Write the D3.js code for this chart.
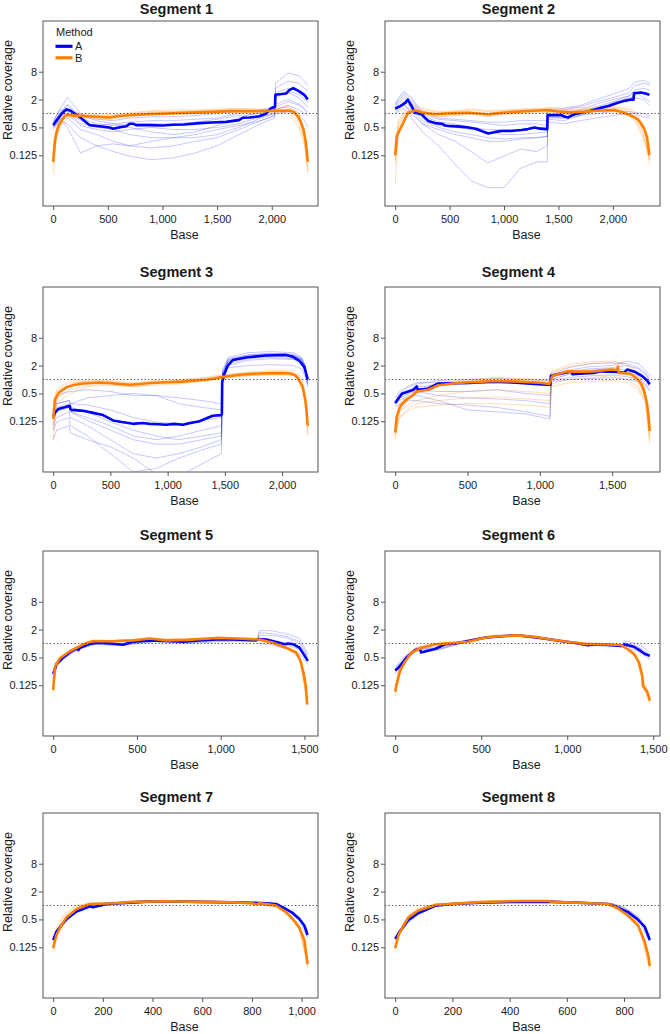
<!DOCTYPE html>
<html><head><meta charset="utf-8">
<script src="https://cdn.jsdelivr.net/npm/d3@7"></script>
<style>
body{margin:0;background:#fff}
svg{display:block}
text{font-family:"Liberation Sans",Arial,Helvetica,sans-serif;fill:#1a1a1a}
</style>
</head><body>
<svg id="chart" width="670" height="1034"></svg>
<script>
// ---------------- DATA ----------------
const segments = ["Segment 1","Segment 2","Segment 3","Segment 4","Segment 5","Segment 6","Segment 7","Segment 8"];
const segLength = [2330, 2340, 2225, 1760, 1520, 1480, 1025, 890];
const tickStep = [500, 500, 500, 500, 500, 500, 200, 200];
const yTicks = [0.125, 0.5, 2, 8];
const methods = ["A", "B"];

// bold (summary) lines: [base, relative coverage]
const meanA1 = [[0,0.56],[40,0.75],[80,1.0],[120,1.23],[160,1.15],[213,0.94],[260,0.78],[304,0.64],[335,0.56],[420,0.53],[517,0.5],[550,0.47],[600,0.5],[670,0.53],[700,0.6],[730,0.6],[760,0.56],[883,0.56],[1000,0.55],[1096,0.57],[1200,0.58],[1340,0.62],[1450,0.64],[1583,0.66],[1700,0.72],[1735,0.81],[1800,0.82],[1887,0.87],[1950,1.0],[1994,1.3],[2030,1.4],[2033,2.55],[2131,2.7],[2160,3.2],[2197,3.54],[2252,3.0],[2300,2.5],[2329,2.0]];
const meanB1 = [[0,0.09],[15,0.25],[30,0.39],[50,0.55],[76,0.69],[100,0.85],[122,0.93],[200,0.9],[274,0.88],[400,0.85],[517,0.82],[600,0.88],[730,0.93],[880,0.97],[1035,1.0],[1200,1.03],[1340,1.06],[1500,1.1],[1644,1.13],[1800,1.12],[1948,1.13],[2100,1.15],[2161,1.16],[2207,1.06],[2240,0.85],[2268,0.64],[2290,0.45],[2307,0.28],[2320,0.16],[2329,0.09]];
const meanA2 = [[0,1.27],[46,1.44],[92,1.7],[116,2.0],[147,1.49],[183,1.04],[244,0.96],[275,0.8],[305,0.69],[366,0.62],[430,0.6],[460,0.55],[488,0.54],[600,0.52],[672,0.5],[740,0.47],[794,0.42],[855,0.37],[920,0.4],[977,0.42],[1060,0.42],[1160,0.44],[1220,0.46],[1282,0.5],[1330,0.47],[1389,0.46],[1398,0.46],[1400,0.92],[1527,0.92],[1560,0.85],[1588,0.82],[1620,0.9],[1649,0.96],[1771,1.1],[1893,1.33],[1960,1.45],[2045,1.7],[2120,1.9],[2168,2.0],[2190,2.0],[2195,2.75],[2259,2.85],[2300,2.7],[2336,2.55]];
const meanB2 = [[0,0.125],[15,0.33],[46,0.46],[76,0.64],[100,0.85],[122,1.04],[183,1.17],[250,1.05],[366,0.96],[470,1.0],[550,1.02],[672,1.04],[760,1.0],[855,0.96],[950,1.02],[1130,1.1],[1280,1.15],[1404,1.19],[1500,1.1],[1600,1.06],[1750,1.1],[1893,1.16],[2015,1.19],[2080,1.08],[2137,0.96],[2190,0.85],[2229,0.75],[2260,0.6],[2290,0.46],[2315,0.3],[2336,0.125]];
const meanA3 = [[0,0.16],[15,0.19],[44,0.23],[100,0.25],[145,0.27],[150,0.23],[160,0.22],[262,0.21],[349,0.19],[436,0.17],[523,0.13],[600,0.12],[698,0.11],[780,0.115],[843,0.11],[920,0.108],[988,0.105],[1060,0.11],[1134,0.105],[1200,0.115],[1279,0.125],[1340,0.145],[1395,0.165],[1468,0.17],[1474,0.18],[1477,0.88],[1497,1.33],[1526,2.0],[1570,2.64],[1686,3.0],[1860,3.3],[2035,3.4],[2093,3.1],[2151,2.55],[2195,1.85],[2224,0.99]];
const meanB3 = [[0,0.14],[15,0.36],[40,0.48],[58,0.54],[116,0.68],[180,0.76],[262,0.82],[400,0.86],[494,0.84],[580,0.8],[669,0.77],[760,0.8],[843,0.84],[1000,0.87],[1134,0.9],[1250,0.95],[1337,0.99],[1420,1.06],[1483,1.14],[1628,1.27],[1750,1.33],[1860,1.37],[2000,1.38],[2064,1.37],[2110,1.25],[2137,1.1],[2160,0.85],[2180,0.69],[2203,0.36],[2215,0.2],[2224,0.1]];
const meanA4 = [[0,0.31],[23,0.39],[46,0.49],[92,0.55],[126,0.6],[149,0.71],[155,0.6],[200,0.62],[229,0.64],[260,0.72],[298,0.82],[400,0.83],[504,0.84],[600,0.87],[687,0.9],[780,0.87],[870,0.84],[960,0.8],[1053,0.77],[1072,0.77],[1076,1.2],[1120,1.3],[1168,1.39],[1218,1.5],[1225,1.3],[1300,1.35],[1374,1.39],[1420,1.5],[1534,1.45],[1580,1.39],[1603,1.64],[1660,1.45],[1706,1.2],[1740,0.96],[1759,0.79]];
const meanB4 = [[0,0.071],[11,0.16],[34,0.26],[69,0.35],[115,0.44],[149,0.55],[229,0.6],[298,0.75],[400,0.82],[504,0.87],[600,0.9],[687,0.93],[870,0.9],[1000,0.85],[1065,0.8],[1088,1.2],[1191,1.5],[1300,1.48],[1374,1.5],[1489,1.64],[1535,1.6],[1539,1.9],[1545,1.39],[1626,1.33],[1672,1.05],[1700,0.8],[1718,0.59],[1740,0.31],[1752,0.15],[1759,0.077]];
const meanA5 = [[0,0.22],[20,0.36],[60,0.5],[100,0.65],[139,0.78],[150,0.72],[159,0.81],[219,0.99],[278,1.04],[358,0.99],[417,0.94],[477,1.09],[576,1.17],[676,1.13],[775,1.09],[874,1.17],[974,1.22],[1073,1.22],[1212,1.17],[1222,1.25],[1272,1.22],[1351,1.04],[1381,0.96],[1400,1.0],[1431,0.97],[1470,0.81],[1495,0.59],[1520,0.42]];
const meanB5 = [[0,0.098],[10,0.31],[40,0.48],[99,0.68],[179,0.96],[238,1.13],[350,1.12],[477,1.17],[576,1.28],[676,1.17],[800,1.2],[974,1.32],[1100,1.28],[1232,1.22],[1311,1.04],[1391,0.81],[1451,0.64],[1476,0.42],[1496,0.22],[1508,0.12],[1516,0.048]];
const meanA6 = [[0,0.26],[19,0.3],[39,0.37],[67,0.5],[116,0.72],[145,0.76],[150,0.64],[231,0.76],[289,0.96],[350,1.0],[424,1.13],[521,1.33],[617,1.44],[713,1.5],[810,1.37],[906,1.22],[964,1.13],[1041,1.04],[1118,0.92],[1195,0.96],[1311,0.88],[1325,0.88],[1330,0.96],[1388,0.85],[1427,0.69],[1450,0.6],[1480,0.54]];
const meanB6 = [[0,0.09],[10,0.14],[29,0.26],[58,0.41],[96,0.64],[154,0.81],[231,0.96],[330,1.02],[424,1.09],[521,1.33],[617,1.45],[713,1.5],[810,1.4],[906,1.22],[1003,1.09],[1100,0.98],[1200,0.96],[1311,0.93],[1350,0.76],[1388,0.59],[1417,0.39],[1430,0.25],[1436,0.2],[1440,0.12],[1465,0.09],[1480,0.058]];
const meanA7 = [[0,0.18],[13,0.27],[33,0.37],[54,0.51],[94,0.74],[147,0.96],[160,0.92],[214,1.08],[321,1.17],[388,1.23],[455,1.23],[589,1.2],[723,1.17],[800,1.15],[857,1.11],[897,1.08],[937,0.84],[964,0.69],[991,0.51],[1011,0.37],[1024,0.23]];
const meanB7 = [[0,0.12],[13,0.23],[33,0.37],[54,0.56],[94,0.84],[147,1.08],[250,1.12],[321,1.2],[455,1.24],[589,1.2],[723,1.17],[800,1.12],[820,1.05],[830,1.12],[857,1.08],[897,1.0],[937,0.72],[964,0.51],[991,0.33],[1011,0.18],[1024,0.054]];
const meanA8 = [[0,0.19],[12,0.25],[29,0.35],[47,0.49],[81,0.69],[140,0.99],[198,1.08],[314,1.17],[430,1.2],[547,1.2],[663,1.13],[744,1.08],[779,0.9],[814,0.72],[849,0.49],[872,0.35],[890,0.18]];
const meanB8 = [[0,0.12],[12,0.23],[29,0.37],[47,0.56],[81,0.78],[140,1.03],[314,1.2],[430,1.25],[535,1.25],[547,1.2],[663,1.13],[744,1.08],[779,0.86],[814,0.6],[849,0.37],[872,0.165],[885,0.08],[890,0.049]];

// thin (individual sample) lines: shared base grid per segment, values per line
const grid1 = [0,30,60,130,250,400,550,700,900,1100,1300,1500,1700,1900,2025,2035,2150,2250,2300,2330];
const thinA1 = [
 [0.7,0.9,1.2,2.2,1.0,0.75,0.7,0.8,0.85,0.85,0.9,1.0,1.1,1.2,1.4,4.5,7.5,6.5,5.0,4.0],
 [0.6,0.8,1.0,1.5,0.8,0.6,0.55,0.6,0.6,0.6,0.65,0.75,0.9,1.0,1.2,3.5,5.0,4.5,3.5,3.0],
 [0.5,0.6,0.8,0.5,0.14,0.2,0.22,0.2,0.25,0.3,0.35,0.45,0.55,0.7,0.9,2.2,3.0,2.6,2.0,1.8],
 [0.45,0.55,0.7,0.6,0.3,0.2,0.15,0.12,0.1,0.11,0.14,0.2,0.35,0.6,0.8,1.2,1.5,1.2,1.0,0.9],
 [0.5,0.6,0.75,0.8,0.45,0.35,0.25,0.2,0.18,0.2,0.25,0.3,0.45,0.7,0.9,1.6,2.0,1.6,1.3,1.1],
 [0.55,0.7,0.9,1.0,0.55,0.45,0.4,0.45,0.5,0.45,0.45,0.5,0.6,0.85,1.0,1.4,1.8,1.5,1.2,1.0],
 [0.6,0.8,1.0,1.2,0.7,0.5,0.45,0.35,0.3,0.3,0.3,0.35,0.5,0.8,1.0,1.0,1.1,0.9,0.7,0.5],
 [0.65,0.9,1.2,1.1,0.6,0.55,0.6,0.5,0.4,0.35,0.4,0.55,0.8,1.1,1.3,2.8,3.5,3.0,2.4,2.0],
 [0.5,0.7,1.0,1.6,0.9,0.7,0.6,0.65,0.7,0.7,0.75,0.8,1.0,1.15,1.3,2.5,2.8,2.2,1.6,1.4]];
const thinB1 = [
 [0.05,0.3,0.55,1.1,0.95,0.9,0.85,0.95,1.05,1.1,1.15,1.2,1.25,1.2,1.25,1.3,1.35,1.0,0.35,0.06],
 [0.12,0.4,0.6,0.95,0.85,0.8,0.8,0.9,1.0,1.0,1.05,1.1,1.1,1.1,1.15,1.2,1.2,0.6,0.25,0.05],
 [0.08,0.3,0.5,0.8,0.8,0.75,0.75,0.85,0.95,0.95,1.0,1.05,1.05,1.05,1.05,1.05,1.05,0.5,0.2,0.07],
 [0.1,0.35,0.65,1.0,0.9,0.85,0.9,1.0,1.1,1.1,1.1,1.15,1.2,1.15,1.2,1.2,1.5,1.0,0.4,0.1],
 [0.15,0.45,0.7,1.2,1.0,0.95,0.95,1.05,1.15,1.2,1.2,1.25,1.3,1.25,1.2,1.25,1.4,0.8,0.3,0.12]];

const grid2 = [0,30,80,150,250,400,550,700,850,1000,1150,1300,1398,1402,1550,1700,1850,2000,2150,2200,2280,2340];
const thinA2 = [
 [1.0,1.1,1.3,0.8,0.4,0.2,0.08,0.035,0.025,0.025,0.065,0.09,0.09,0.85,0.8,0.9,1.0,1.1,1.1,1.05,1.0,0.9],
 [1.2,1.4,1.6,1.0,0.6,0.35,0.25,0.15,0.085,0.12,0.17,0.15,0.2,0.65,0.6,0.7,0.8,0.9,1.0,1.0,0.85,0.8],
 [1.5,2.0,2.8,2.0,1.0,0.75,0.7,0.65,0.6,0.55,0.6,0.6,0.55,1.1,1.2,1.4,1.8,2.2,2.8,4.0,4.5,4.2],
 [1.3,1.6,2.2,1.6,0.8,0.55,0.5,0.45,0.4,0.35,0.35,0.38,0.4,0.9,0.9,1.1,1.4,1.8,2.4,3.2,3.5,3.2],
 [1.1,1.3,1.8,1.4,0.7,0.5,0.4,0.35,0.3,0.28,0.3,0.3,0.32,0.75,0.7,0.9,1.2,1.5,2.0,2.6,2.8,2.5],
 [1.4,1.8,2.5,1.8,0.9,0.65,0.6,0.5,0.45,0.45,0.45,0.5,0.5,1.0,1.0,1.2,1.6,2.0,2.4,3.0,2.2,1.8],
 [1.0,1.2,1.5,1.2,0.6,0.45,0.35,0.3,0.25,0.25,0.28,0.3,0.32,0.8,0.8,1.0,1.3,1.7,2.2,2.2,2.0,1.5],
 [1.6,2.2,3.0,2.2,1.1,0.8,0.75,0.7,0.65,0.65,0.7,0.7,0.7,1.2,1.3,1.5,2.0,2.6,3.5,4.8,5.2,4.6]];
const thinB2 = [
 [0.03,0.35,0.7,1.2,1.1,1.0,1.05,1.1,1.0,1.1,1.15,1.2,1.2,1.2,1.15,1.2,1.25,1.3,1.1,0.9,0.4,0.1],
 [0.1,0.5,0.9,1.4,1.2,1.05,1.1,1.2,1.1,1.15,1.2,1.25,1.3,1.3,1.2,1.25,1.3,1.35,1.2,1.0,0.55,0.15],
 [0.15,0.6,1.0,1.25,1.0,0.9,0.95,1.0,0.9,1.0,1.05,1.1,1.1,1.1,1.0,1.1,1.15,1.15,1.0,0.8,0.35,0.08],
 [0.08,0.4,0.8,1.1,0.95,0.85,0.9,0.95,0.85,0.95,1.0,1.05,1.05,1.05,0.95,1.05,1.1,1.1,0.9,0.7,0.3,0.1],
 [0.2,0.7,1.1,1.6,1.3,1.1,1.15,1.25,1.15,1.2,1.25,1.3,1.3,1.35,1.3,1.35,1.4,1.4,1.3,1.1,0.6,0.2]];

const grid3 = [0,30,140,150,300,500,700,900,1100,1300,1470,1480,1530,1700,1900,2100,2170,2200,2225];
const thinA3 = [
 [0.35,0.45,0.55,0.55,0.6,0.55,0.45,0.45,0.4,0.35,0.3,1.3,1.8,2.0,2.1,2.0,1.7,1.2,0.7],
 [0.2,0.3,0.35,0.3,0.4,0.45,0.5,0.45,0.3,0.25,0.22,1.5,2.8,3.4,3.6,3.4,2.8,2.0,1.0],
 [0.12,0.2,0.25,0.2,0.15,0.1,0.06,0.05,0.06,0.08,0.1,1.4,2.6,3.2,3.4,3.3,2.7,1.8,0.9],
 [0.1,0.15,0.2,0.15,0.1,0.05,0.025,0.02,0.025,0.035,0.05,1.2,2.4,3.0,3.2,3.0,2.5,1.7,0.85],
 [0.08,0.12,0.15,0.1,0.06,0.025,0.01,0.012,0.02,0.03,0.04,1.1,2.2,2.8,3.0,2.8,2.4,1.6,0.8],
 [0.15,0.22,0.28,0.25,0.2,0.12,0.08,0.06,0.05,0.06,0.07,1.6,3.0,3.8,4.0,3.8,3.0,2.1,1.1],
 [0.05,0.08,0.1,0.07,0.05,0.035,0.02,0.009,0.008,0.015,0.025,1.0,2.0,2.6,2.8,2.7,2.2,1.5,0.75],
 [0.25,0.3,0.35,0.3,0.28,0.22,0.15,0.12,0.11,0.13,0.15,1.3,2.5,3.2,3.5,3.3,2.7,1.9,0.95],
 [0.18,0.25,0.3,0.2,0.13,0.08,0.05,0.04,0.04,0.05,0.06,1.3,2.7,3.4,3.7,3.5,2.9,2.0,1.0]];
const thinB3 = [
 [0.05,0.35,0.75,0.8,0.95,0.95,0.85,0.95,1.0,1.1,1.25,1.25,1.3,1.45,1.55,1.55,1.1,0.55,0.07],
 [0.2,0.55,0.85,0.9,0.85,0.8,0.7,0.8,0.85,0.95,1.05,1.05,1.1,1.2,1.25,1.25,0.8,0.4,0.12],
 [0.1,0.4,0.6,0.6,0.75,0.8,0.75,0.85,0.95,1.05,1.2,1.2,1.25,1.4,1.45,1.4,0.95,0.5,0.15],
 [0.3,0.6,0.95,1.0,0.9,0.9,0.8,0.9,0.95,1.0,1.1,1.1,1.15,1.25,1.3,1.3,0.85,0.42,0.09],
 [0.08,0.3,0.5,0.5,0.7,0.75,0.7,0.75,0.8,0.9,1.05,1.1,1.15,1.2,1.3,1.25,0.75,0.35,0.06]];

const grid4 = [0,30,100,150,300,500,700,900,1070,1080,1200,1350,1500,1600,1680,1730,1760];
const thinA4 = [
 [0.35,0.5,0.7,0.8,0.95,1.0,1.05,1.0,0.95,1.3,1.8,2.2,2.3,2.2,1.8,1.4,1.0],
 [0.3,0.4,0.5,0.55,0.45,0.4,0.38,0.35,0.3,1.1,1.4,1.6,1.7,1.6,1.3,1.0,0.75],
 [0.25,0.3,0.35,0.35,0.3,0.28,0.25,0.2,0.16,0.95,1.1,1.2,1.25,1.15,1.0,0.8,0.6],
 [0.28,0.35,0.45,0.45,0.35,0.22,0.2,0.18,0.14,0.9,1.0,1.05,1.1,1.0,0.9,0.75,0.55],
 [0.4,0.55,0.75,0.85,0.85,0.9,0.95,0.9,0.85,1.2,1.6,1.9,2.0,2.5,2.2,1.6,1.2],
 [0.3,0.45,0.6,0.7,0.75,0.8,0.85,0.8,0.75,1.2,1.5,1.7,1.8,2.0,1.7,1.3,0.9],
 [0.33,0.45,0.55,0.6,0.55,0.55,0.6,0.5,0.45,1.0,1.3,1.4,1.5,1.4,1.2,0.9,0.7]];
const thinB4 = [
 [0.05,0.2,0.4,0.5,0.8,0.95,1.05,1.0,0.9,1.4,1.9,2.2,2.3,2.0,1.2,0.5,0.06],
 [0.08,0.15,0.25,0.3,0.35,0.4,0.42,0.38,0.35,0.8,1.0,1.1,1.2,1.0,0.7,0.35,0.05],
 [0.1,0.2,0.3,0.35,0.45,0.55,0.6,0.55,0.5,1.0,1.3,1.45,1.5,1.3,0.9,0.4,0.08],
 [0.06,0.15,0.22,0.25,0.28,0.3,0.3,0.28,0.25,0.7,0.85,0.9,0.95,0.85,0.6,0.3,0.04],
 [0.12,0.3,0.5,0.6,0.85,1.0,1.1,1.05,0.95,1.5,2.1,2.4,2.5,2.2,1.4,0.6,0.1]];

const grid5 = [0,20,60,140,250,400,600,800,1000,1220,1230,1300,1400,1470,1520];
const thinA5 = [
 [0.25,0.4,0.55,0.85,1.05,1.0,1.2,1.2,1.3,1.25,1.9,1.9,1.6,1.3,0.6],
 [0.2,0.33,0.45,0.72,0.95,0.9,1.1,1.05,1.15,1.15,1.5,1.5,1.3,1.0,0.5],
 [0.23,0.38,0.5,0.8,1.0,0.98,1.15,1.1,1.2,1.2,1.2,1.15,0.9,0.75,0.4],
 [0.21,0.35,0.48,0.75,0.98,0.92,1.1,1.0,1.1,1.15,1.0,0.95,0.75,0.6,0.35],
 [0.24,0.37,0.52,0.8,1.02,0.96,1.18,1.15,1.25,1.22,1.7,1.65,1.4,1.1,0.55]];
const thinB5 = [
 [0.09,0.33,0.5,0.75,1.05,1.2,1.2,1.25,1.3,1.25,1.2,1.1,0.82,0.55,0.05],
 [0.11,0.3,0.46,0.7,1.0,1.12,1.15,1.2,1.25,1.2,1.15,1.0,0.75,0.48,0.045],
 [0.1,0.34,0.52,0.8,1.08,1.18,1.22,1.28,1.32,1.28,1.22,1.08,0.8,0.52,0.05]];

const grid6 = [0,20,60,120,150,250,400,550,700,850,1000,1150,1320,1330,1400,1450,1480];
const thinA6 = [
 [0.3,0.38,0.55,0.8,0.85,0.8,1.15,1.45,1.5,1.35,1.1,0.95,0.9,1.15,1.0,0.8,0.6],
 [0.22,0.3,0.45,0.7,0.75,0.72,1.05,1.35,1.45,1.3,1.05,0.9,0.85,0.9,0.75,0.55,0.45],
 [0.28,0.35,0.5,0.75,0.8,0.76,1.1,1.4,1.5,1.35,1.08,0.92,0.88,1.05,0.9,0.7,0.55],
 [0.25,0.32,0.48,0.72,0.78,0.74,1.08,1.38,1.48,1.32,1.06,0.91,0.86,0.8,0.7,0.6,0.5]];
const thinB6 = [
 [0.07,0.22,0.5,0.75,0.85,0.95,1.1,1.45,1.5,1.3,1.05,0.95,0.9,0.85,0.55,0.1,0.05],
 [0.1,0.28,0.45,0.72,0.8,0.9,1.05,1.4,1.45,1.25,1.0,0.92,0.88,0.82,0.5,0.12,0.065],
 [0.09,0.25,0.55,0.8,0.88,1.0,1.15,1.5,1.55,1.35,1.1,0.98,0.92,0.88,0.6,0.14,0.07]];

const grid7 = [0,15,40,90,150,250,400,600,800,900,950,990,1025];
const thinA7 = [
 [0.2,0.3,0.45,0.8,1.0,1.1,1.2,1.22,1.12,1.0,0.8,0.55,0.28],
 [0.16,0.25,0.38,0.7,0.9,1.05,1.15,1.18,1.08,0.95,0.72,0.48,0.2],
 [0.18,0.28,0.42,0.75,0.95,1.08,1.18,1.2,1.1,1.02,0.78,0.52,0.25]];
const thinB7 = [
 [0.12,0.3,0.55,0.95,1.1,1.15,1.25,1.25,1.12,0.95,0.65,0.35,0.045],
 [0.1,0.25,0.45,0.85,1.05,1.12,1.2,1.2,1.08,0.9,0.6,0.3,0.06],
 [0.14,0.35,0.6,1.0,1.12,1.18,1.28,1.3,1.14,0.98,0.68,0.38,0.05]];

const grid8 = [0,12,30,50,80,140,250,400,550,700,760,800,850,890];
const thinA8 = [
 [0.2,0.27,0.4,0.55,0.75,1.02,1.12,1.2,1.25,1.15,1.1,0.92,0.58,0.22],
 [0.17,0.23,0.32,0.45,0.62,0.95,1.08,1.15,1.18,1.1,1.05,0.85,0.5,0.16],
 [0.19,0.26,0.38,0.52,0.7,1.0,1.1,1.18,1.22,1.12,1.08,0.9,0.55,0.2]];
const thinB8 = [
 [0.13,0.26,0.42,0.65,0.88,1.08,1.18,1.24,1.28,1.15,1.1,0.8,0.42,0.05],
 [0.11,0.22,0.35,0.55,0.75,1.0,1.12,1.18,1.22,1.1,1.05,0.75,0.38,0.04],
 [0.12,0.25,0.4,0.6,0.82,1.05,1.15,1.22,1.25,1.13,1.08,0.78,0.4,0.06]];

const meanA = [meanA1,meanA2,meanA3,meanA4,meanA5,meanA6,meanA7,meanA8];
const meanB = [meanB1,meanB2,meanB3,meanB4,meanB5,meanB6,meanB7,meanB8];
const grids = [grid1,grid2,grid3,grid4,grid5,grid6,grid7,grid8];
const thinA = [thinA1,thinA2,thinA3,thinA4,thinA5,thinA6,thinA7,thinA8];
const thinB = [thinB1,thinB2,thinB3,thinB4,thinB5,thinB6,thinB7,thinB8];

// ---------------- DRAWING ----------------
const colorA = "#0000ff", colorB = "#ff8000";
const svg = d3.select("#chart");
const colLeft = [43, 385], rowTop = [21, 287, 551, 813], W = 275, H = 185;
const titleY = [13.5, 276.5, 539.5, 802];
const fmt = d3.format(",");

segments.forEach((name, i) => {
  const col = i % 2, row = Math.floor(i / 2);
  const L = segLength[i], left = colLeft[col], top = rowTop[row];
  const x = d3.scaleLinear().domain([-0.04 * L, 1.04 * L]).range([left, left + W]);
  const y = d3.scaleLog().domain([0.01, 100]).range([top + H, top]);
  const g = svg.append("g");
  const clipId = "clip" + i;
  svg.append("clipPath").attr("id", clipId).append("rect")
    .attr("x", left).attr("y", top).attr("width", W).attr("height", H);
  const plot = g.append("g").attr("clip-path", `url(#${clipId})`);
  const line = d3.line().x(d => x(d[0])).y(d => y(Math.max(d[1], 0.002)));
  const grid = grids[i];

  thinA[i].forEach(vals => {
    plot.append("path").attr("d", line(grid.map((b, k) => [b, vals[k]])))
      .attr("fill", "none").attr("stroke", colorA).attr("stroke-opacity", 0.22).attr("stroke-width", 1);
  });
  thinB[i].forEach(vals => {
    plot.append("path").attr("d", line(grid.map((b, k) => [b, vals[k]])))
      .attr("fill", "none").attr("stroke", colorB).attr("stroke-opacity", 0.28).attr("stroke-width", 1);
  });
  plot.append("path").attr("d", line(meanA[i])).attr("fill", "none")
    .attr("stroke", colorA).attr("stroke-width", 2.6).attr("stroke-linejoin", "round");
  plot.append("path").attr("d", line(meanB[i])).attr("fill", "none")
    .attr("stroke", colorB).attr("stroke-width", 2.6).attr("stroke-linejoin", "round");

  // reference line at 1
  g.append("line").attr("x1", left).attr("x2", left + W).attr("y1", y(1)).attr("y2", y(1))
    .attr("stroke", "#444").attr("stroke-width", 1).attr("stroke-dasharray", "1.2,2.3");

  // frame
  g.append("rect").attr("x", left).attr("y", top).attr("width", W).attr("height", H)
    .attr("fill", "none").attr("stroke", "#555").attr("stroke-width", 1);

  // axes
  const xAxis = d3.axisBottom(x).tickValues(d3.range(0, 1.04 * L, tickStep[i]))
    .tickSize(4).tickPadding(5).tickFormat(fmt);
  const xg = g.append("g").attr("transform", `translate(0,${top + H})`).call(xAxis);
  xg.select(".domain").remove();
  xg.selectAll(".tick line").attr("stroke", "#555");
  xg.selectAll(".tick text").attr("font-size", 11).attr("fill", "#1a1a1a")
    .style("font-family", '"Liberation Sans",Arial,sans-serif');

  const yAxis = d3.axisLeft(y).tickValues(yTicks).tickSize(4).tickPadding(2).tickFormat(d => String(d));
  const yg = g.append("g").attr("transform", `translate(${left},0)`).call(yAxis);
  yg.select(".domain").remove();
  yg.selectAll(".tick line").attr("stroke", "#555");
  yg.selectAll(".tick text").attr("font-size", 11).attr("fill", "#1a1a1a")
    .style("font-family", '"Liberation Sans",Arial,sans-serif');

  // titles
  g.append("text").attr("x", left + W / 2 - 4).attr("y", titleY[row])
    .attr("text-anchor", "middle").attr("font-size", 14.5).attr("font-weight", "bold").text(name);
  g.append("text").attr("x", left + W / 2 + 4).attr("y", top + H + 33)
    .attr("text-anchor", "middle").attr("font-size", 12.5).text("Base");
  g.append("text").attr("transform", `translate(${left - 31},${top + 69}) rotate(-90)`)
    .attr("text-anchor", "middle").attr("font-size", 12.5).text("Relative coverage");

  // legend (first panel only)
  if (i === 0) {
    const lg = g.append("g");
    lg.append("text").attr("x", 56).attr("y", 35.5).attr("font-size", 11).attr("fill", "#333").text("Method");
    [colorA, colorB].forEach((c, k) => {
      const yy = 46.3 + k * 11.5;
      lg.append("line").attr("x1", 55.5).attr("x2", 72.5).attr("y1", yy).attr("y2", yy)
        .attr("stroke", c).attr("stroke-width", 3.2);
      lg.append("text").attr("x", 75).attr("y", yy + 3.8).attr("font-size", 11).attr("fill", "#333").text(methods[k]);
    });
  }
});
</script>
</body></html>
